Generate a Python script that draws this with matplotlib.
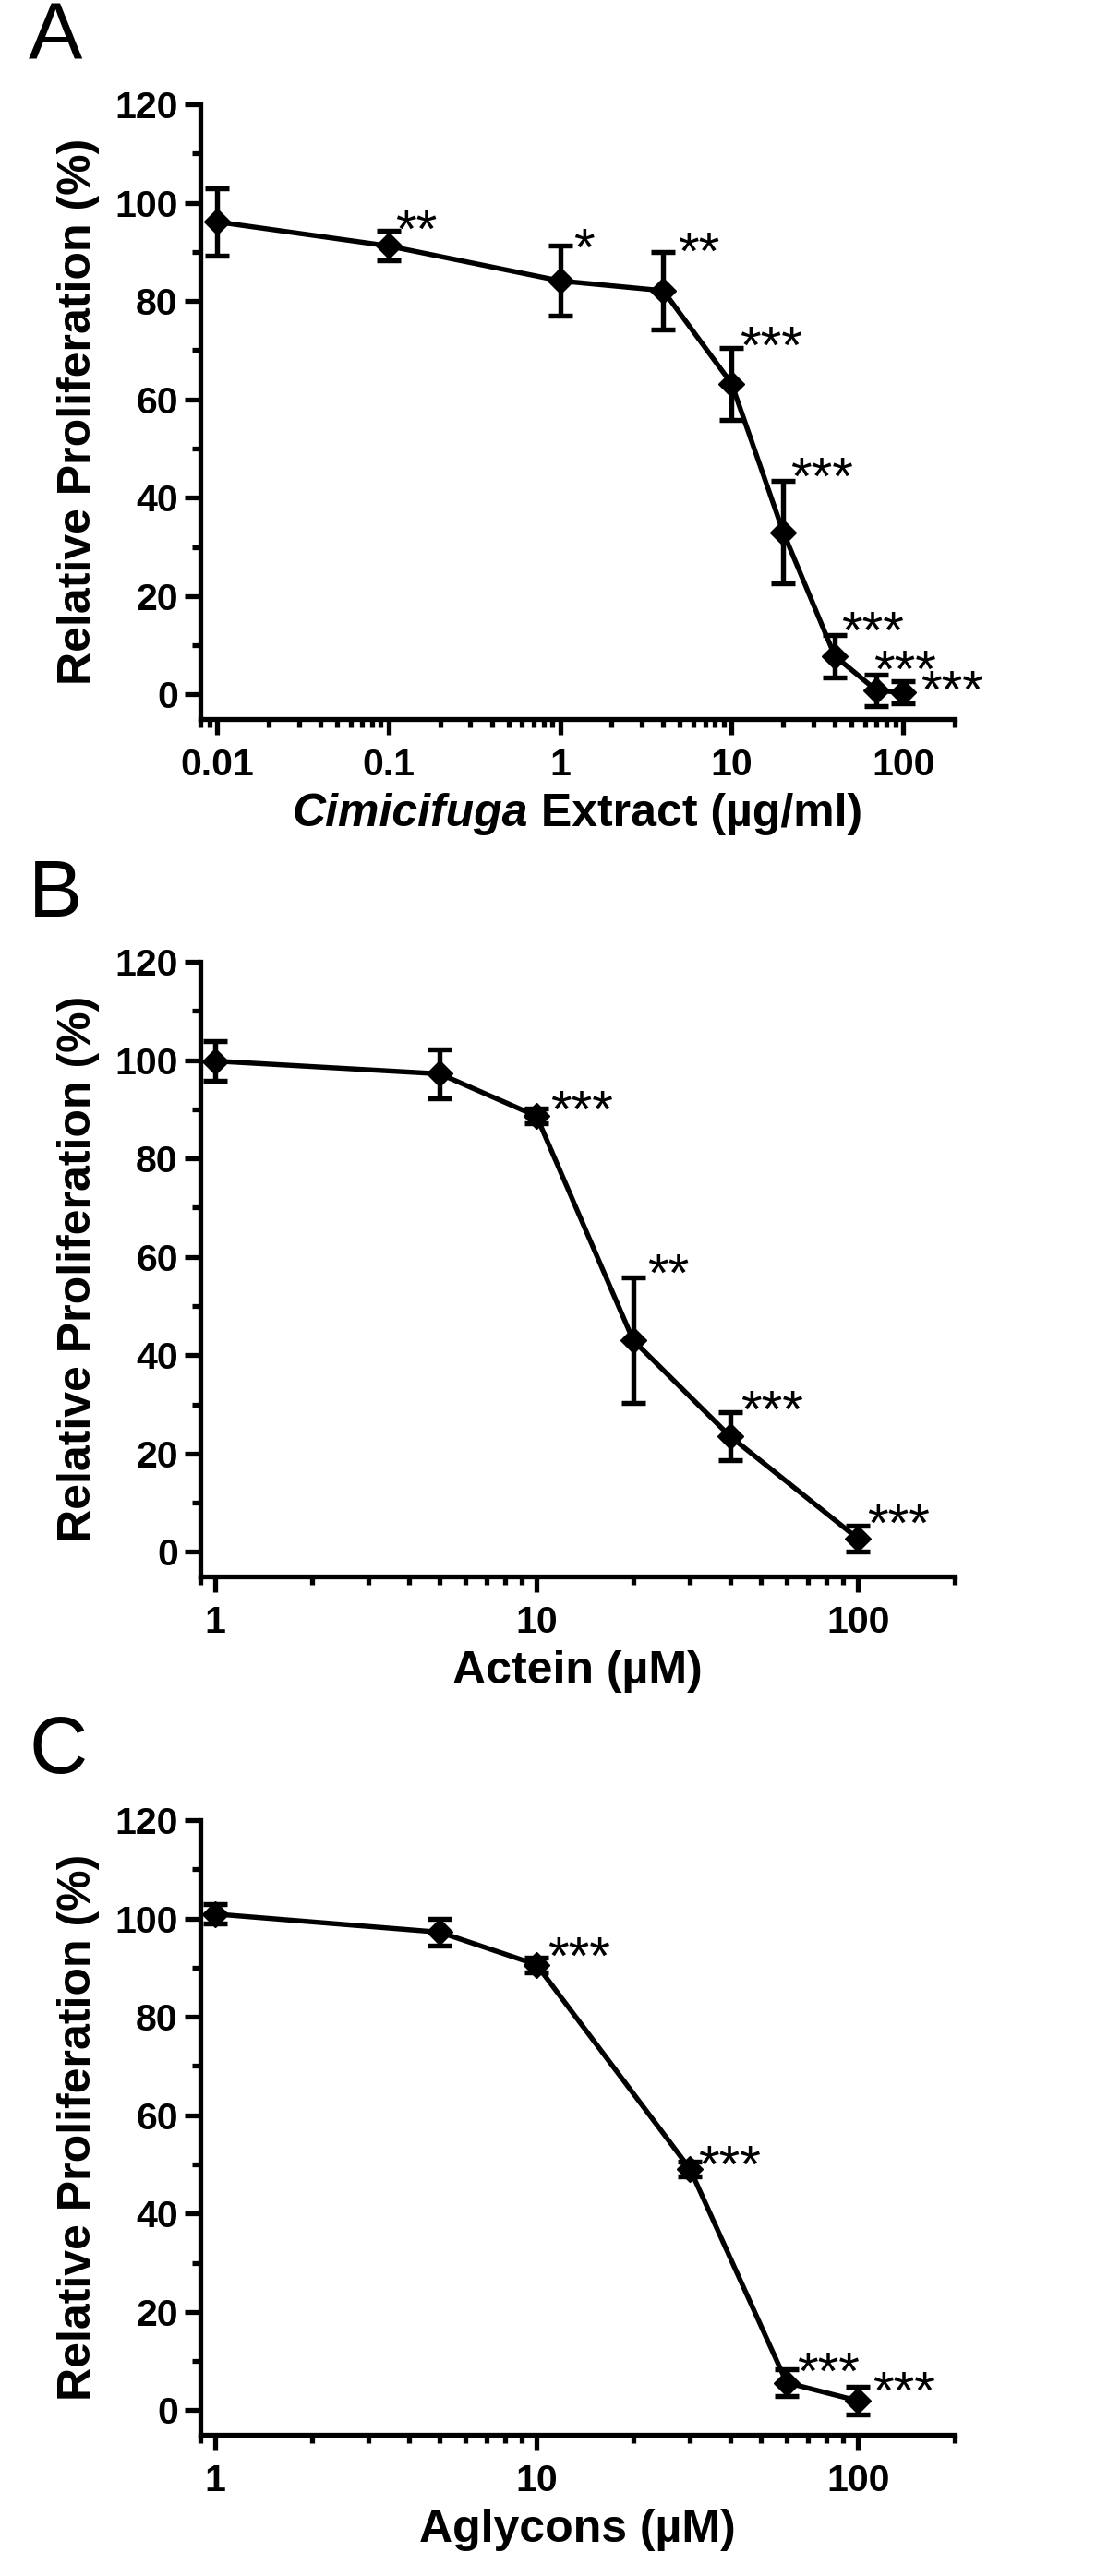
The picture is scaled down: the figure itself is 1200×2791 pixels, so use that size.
import matplotlib
matplotlib.use('Agg')
import matplotlib.pyplot as plt
from matplotlib.ticker import LogLocator, MultipleLocator, FuncFormatter, NullFormatter
from matplotlib.transforms import IdentityTransform
import numpy as np

# ---------------- data ----------------
A_x = [0.01, 0.1, 1, 4, 10, 20, 40, 70, 100]
A_y = [96.1, 91.2, 84.1, 82.1, 63.2, 33.0, 7.8, 0.8, 0.4]
A_err = [6.9, 3.0, 7.1, 7.9, 7.3, 10.5, 4.3, 3.2, 2.3]
A_stars = ['', '**', '*', '**', '***', '***', '***', '***', '***']

B_x = [1, 5, 10, 20, 40, 100]
B_y = [99.8, 97.2, 88.6, 43.0, 23.5, 2.7]
B_err = [4.0, 5.0, 1.5, 12.8, 4.9, 2.7]
B_stars = ['', '', '***', '**', '***', '***']

C_x = [1, 5, 10, 30, 60, 100]
C_y = [100.9, 97.2, 90.6, 49.1, 5.6, 1.9]
C_err = [2.0, 2.8, 1.5, 1.5, 2.7, 2.8]
C_stars = ['', '', '***', '***', '***', '***']

y_ticks = [0, 20, 40, 60, 80, 100, 120]
y_label = 'Relative Proliferation (%)'
A_xlabel_parts = ['Cimicifuga', ' Extract (µg/ml)']
B_xlabel = 'Actein (µM)'
C_xlabel = 'Aglycons (µM)'
panel_letters = ['A', 'B', 'C']

# ---------------- style ----------------
plt.rcParams['font.family'] = ['Liberation Sans', 'DejaVu Sans']
plt.rcParams['font.weight'] = 'bold'

W, H, DPI = 1200.0, 2791.0, 100
fig = plt.figure(figsize=(W / DPI, H / DPI), dpi=DPI, facecolor='white')


def rect(left, right, top, bottom):
    return [left / W, 1 - bottom / H, (right - left) / W, (bottom - top) / H]


# star offsets (px): visible star left relative to point x, bottom above error top
A_off = [(0, 0), (9, 8), (17, 4), (18, 6), (11, 8), (10, 10), (9, 10), (-1, 11), (21, -4)]
B_off = [(0, 0), (0, 0), (17, 5), (17, 10), (13, 8), (12, 8)]
C_off = [(0, 0), (0, 0), (14, 7), (11, 2), (13, 3), (18, 2)]

panels = [
    dict(x=A_x, y=A_y, err=A_err, stars=A_stars, off=A_off, xlim=(0.008, 200),
         rect=rect(217, 1034, 113, 779), letter_base=65),
    dict(x=B_x, y=B_y, err=B_err, stars=B_stars, off=B_off, xlim=(0.9, 200),
         rect=rect(217, 1034, 1042, 1708), letter_base=993),
    dict(x=C_x, y=C_y, err=C_err, stars=C_stars, off=C_off, xlim=(0.9, 200),
         rect=rect(217, 1034, 1972, 2638), letter_base=1921),
]

LW = 3.9
STAR_FS = 42
star_px = STAR_FS * DPI / 72.0
axes = []
for i, p in enumerate(panels):
    ax = fig.add_axes(p['rect'])
    axes.append(ax)
    ax.set_xscale('log')
    ax.errorbar(p['x'], p['y'], yerr=p['err'], fmt='-D', color='black', ms=14,
                lw=LW, elinewidth=LW, capsize=9.5, capthick=LW, clip_on=False,
                zorder=3)
    ax.set_xlim(*p['xlim'])
    ax.set_ylim(-5, 120)
    for s in ['top', 'right']:
        ax.spines[s].set_visible(False)
    for s in ['left', 'bottom']:
        ax.spines[s].set_linewidth(3.8)
    ax.set_yticks(y_ticks)
    ax.yaxis.set_minor_locator(MultipleLocator(10))
    ax.xaxis.set_major_locator(LogLocator(base=10, numticks=20))
    ax.xaxis.set_minor_locator(LogLocator(base=10, subs=np.arange(2, 10), numticks=100))
    ax.xaxis.set_major_formatter(FuncFormatter(lambda v, pos: f'{v:g}'))
    ax.xaxis.set_minor_formatter(NullFormatter())
    ax.tick_params(which='major', length=12.5, width=3.8, labelsize=29.5)
    ax.tick_params(which='minor', length=6.8, width=3.8)
    ax.tick_params(axis='y', which='major', pad=5)
    ax.tick_params(axis='x', which='major', pad=10)
    ax.set_ylabel(y_label, fontsize=36, fontweight='bold', labelpad=12)
    for xi, yi, ei, st, (dx, dy) in zip(p['x'], p['y'], p['err'], p['stars'], p['off']):
        if st:
            ax.annotate(st, xy=(xi, yi + ei), xytext=(dx - 2, dy - 0.43 * star_px),
                        textcoords='offset pixels', ha='left', va='baseline',
                        fontsize=STAR_FS, fontweight='normal', annotation_clip=False)
    fig.text(31 / W, 1 - p['letter_base'] / H, panel_letters[i], fontsize=63,
             fontweight='normal', ha='left', va='baseline')

axes[0].set_xlabel(''.join(A_xlabel_parts), fontsize=36, fontweight='bold', labelpad=8)
axes[1].set_xlabel(B_xlabel, fontsize=36, fontweight='bold', labelpad=8)
axes[2].set_xlabel(C_xlabel, fontsize=36, fontweight='bold', labelpad=8)

# rebuild the panel A x label with an italic genus name
fig.canvas.draw()
r = fig.canvas.get_renderer()
lab = axes[0].xaxis.label
bb = lab.get_window_extent(r)
lab.set_visible(False)
t1 = fig.text(0, 0, A_xlabel_parts[0], fontsize=36, fontweight='bold', style='italic',
              ha='left', va='top', transform=IdentityTransform())
t2 = fig.text(0, 0, A_xlabel_parts[1], fontsize=36, fontweight='bold',
              ha='left', va='top', transform=IdentityTransform())
w1 = t1.get_window_extent(r).width
w2 = t2.get_window_extent(r).width
x0 = (bb.x0 + bb.x1) / 2 - (w1 + w2) / 2
t1.set_position((x0, bb.y1))
t2.set_position((x0 + w1, bb.y1))

fig.savefig('out.png', dpi=DPI, facecolor='white')
